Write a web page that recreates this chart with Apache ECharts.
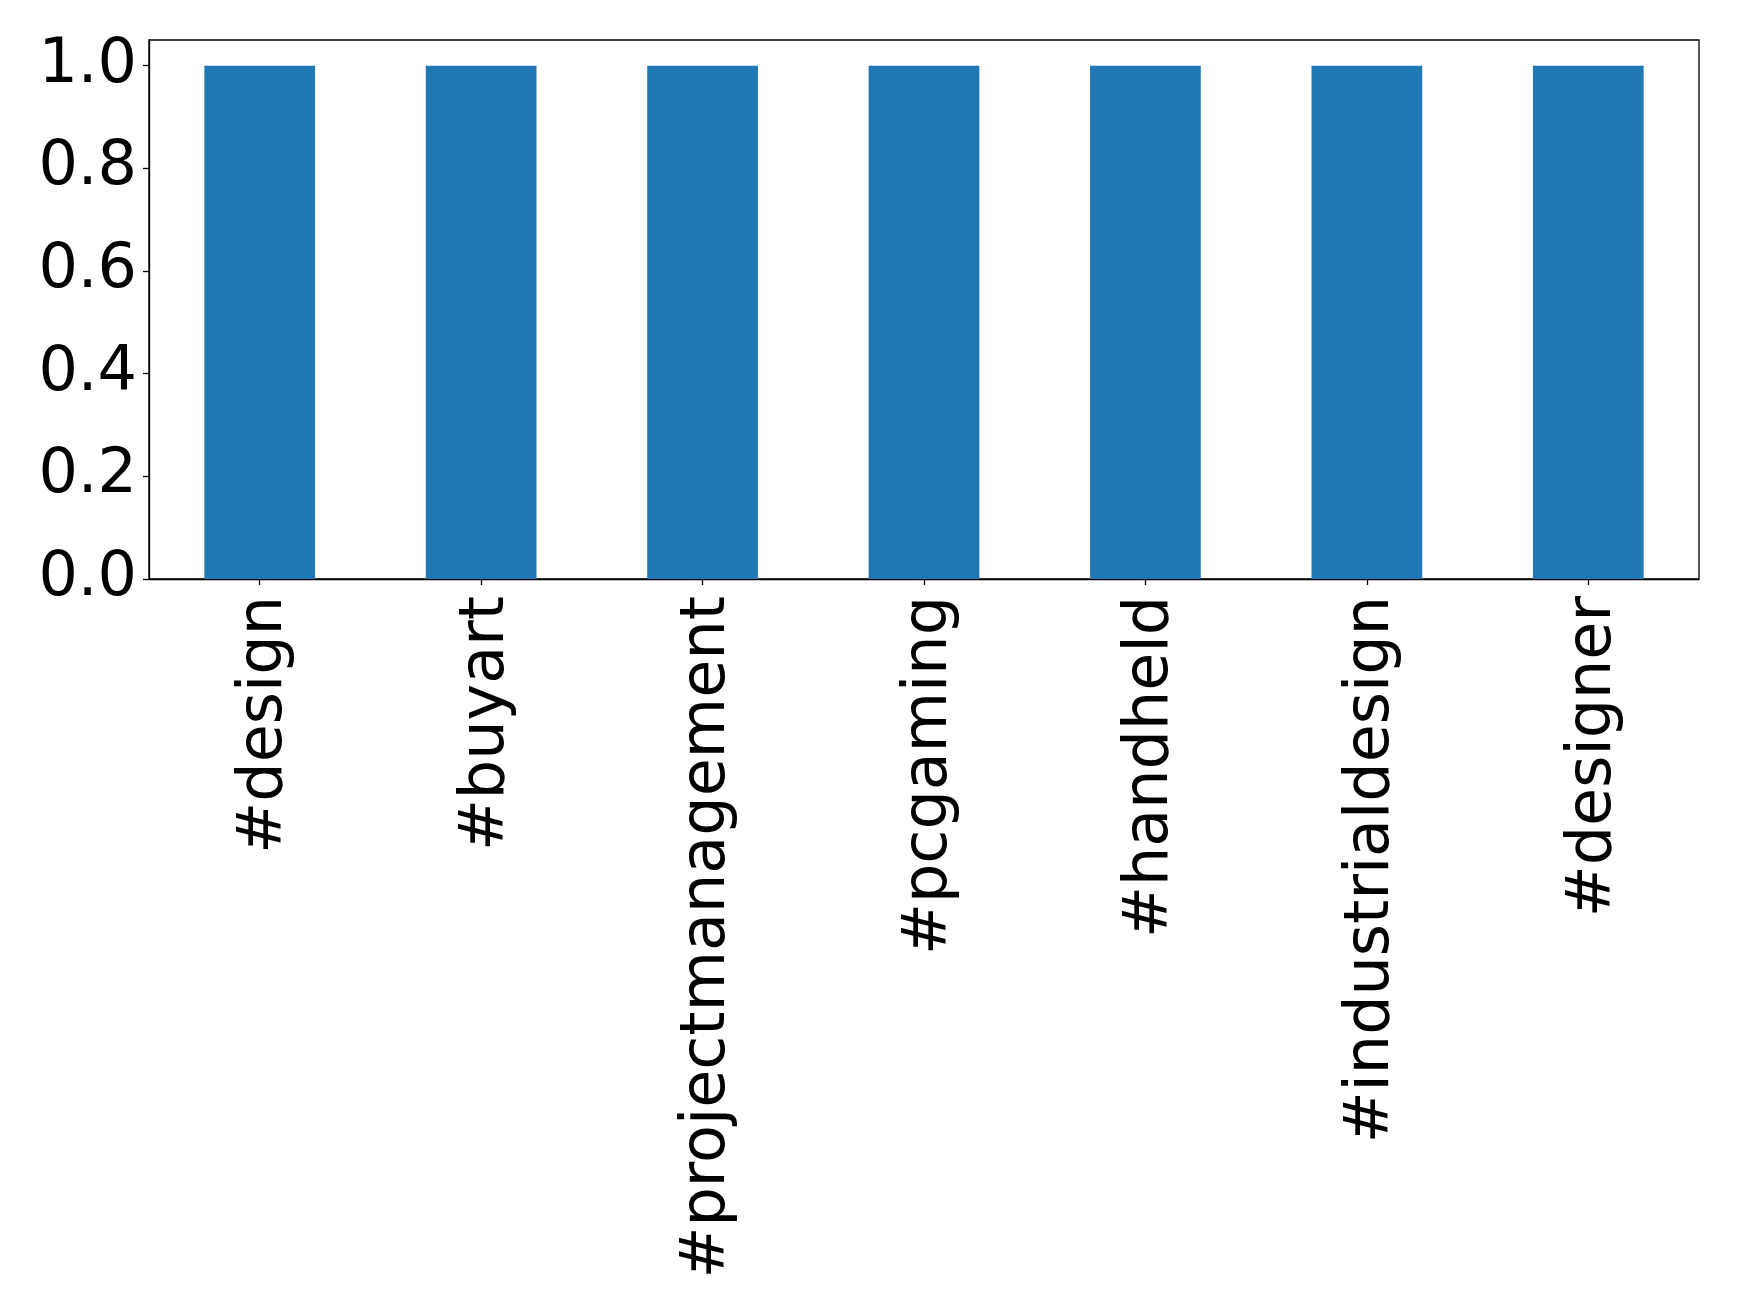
<!DOCTYPE html>
<html>
<head>
<meta charset="utf-8">
<script src="https://cdn.jsdelivr.net/npm/echarts@6/dist/echarts.min.js"></script>
<style>
html,body{margin:0;padding:0;background:#fff;}
#chart{width:1739px;height:1316px;}
</style>
</head>
<body>
<div id="chart"></div>
<script>
const categories = ['#design','#buyart','#projectmanagement','#pcgaming','#handheld','#industrialdesign','#designer'];
const values = [1, 1, 1, 1, 1, 1, 1];
const yTicks = [0, 0.2, 0.4, 0.6, 0.8, 1.0];

const chart = echarts.init(document.getElementById('chart'), null, {renderer:'canvas'});
const font = 'DejaVu Sans';
chart.setOption({
  animation: false,
  backgroundColor: '#fff',
  grid: {left: 149, right: 40, top: 40, bottom: 737, show: true, borderColor: '#000', borderWidth: 1.3, containLabel: false},
  xAxis: {
    type: 'category',
    data: categories,
    axisLine: {show: true, lineStyle: {color: '#000', width: 1.3}},
    axisTick: {show: true, alignWithLabel: true, length: 6, lineStyle: {color: '#000', width: 1.3}},
    axisLabel: {rotate: 90, margin: 17, fontFamily: font, fontSize: 62, color: '#000', interval: 0,
      verticalAlign: 'top', lineHeight: 11},
    splitLine: {show: false}
  },
  yAxis: {
    type: 'value',
    min: 0,
    max: 1.05,
    interval: 0.2,
    axisLine: {show: true, lineStyle: {color: '#000', width: 1.3}},
    axisTick: {show: true, length: 6, lineStyle: {color: '#000', width: 1.3}, customValues: yTicks},
    axisLabel: {margin: 12, fontFamily: font, fontSize: 62, color: '#000', customValues: yTicks,
      formatter: v => v.toFixed(1)},
    splitLine: {show: false}
  },
  series: [{
    type: 'bar',
    data: values,
    barWidth: '50%',
    itemStyle: {color: '#1f77b4'}
  }]
});
</script>
</body>
</html>
